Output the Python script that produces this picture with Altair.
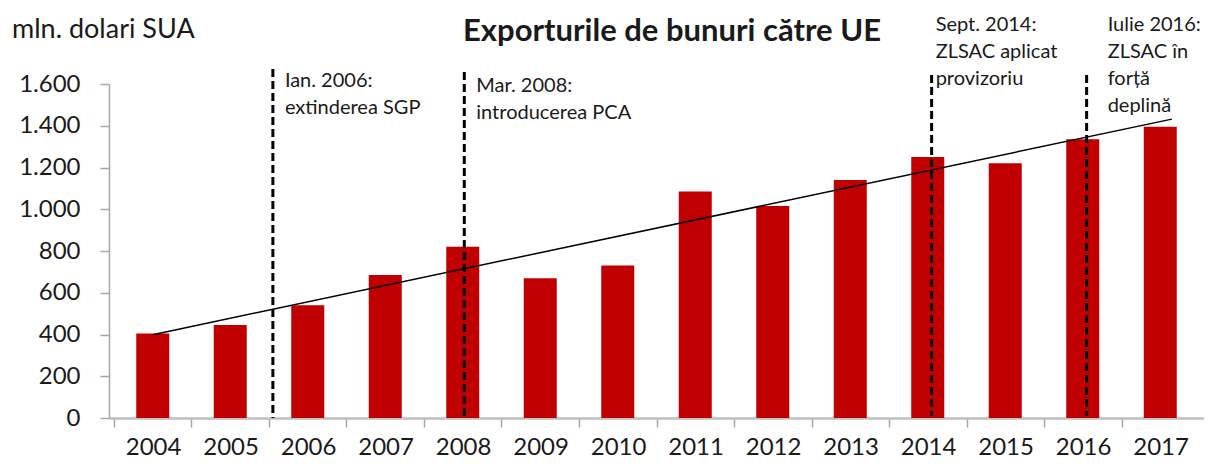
import altair as alt
import pandas as pd

# ---- data ----
years = list(range(2004, 2018))
exports = [405, 445, 540, 685, 820, 670, 730, 1085, 1015, 1140, 1250, 1220, 1335, 1395]

event_years = [2005.55, 2008.02, 2014.05, 2016.05]
event_tops = [1672, 1657, 1643, 1643]
event_bottoms = [0, 0, 12, 12]
event_labels = [
    "Ian. 2006:\nextinderea SGP",
    "Mar. 2008:\nintroducerea PCA",
    "Sept. 2014:\nZLSAC aplicat\nprovizoriu",
    "Iulie 2016:\nZLSAC în\nforță\ndeplină",
]
y_ticks = [0, 200, 400, 600, 800, 1000, 1200, 1400, 1600]
x_boundaries = [y - 0.5 for y in years]

title_text = "Exporturile de bunuri către UE"
unit_text = "mln. dolari SUA"

# ---- layout ----
W, H = 1095, 334
FONT = "Lato"
RED = "#C00000"
TXT = "#1a1a1a"

df = pd.DataFrame({"year": years, "value": exports})
ev = pd.DataFrame({"year": event_years, "top": event_tops, "bottom": event_bottoms,
                   "label": event_labels})

xscale = alt.Scale(domain=[2003.5, 2017.5], nice=False, zero=False)
yscale = alt.Scale(domain=[0, 1600], nice=False)

x_axis = alt.Axis(values=x_boundaries, labelExpr="toString(datum.value + 0.5)",
                  labelOffset=W / 14 / 2, tickSize=9, tickColor="#a6a6a6", tickWidth=1.5,
                  domainColor="#bfbfbf", domainWidth=2.5, labelFont=FONT, labelFontSize=24,
                  labelColor=TXT, labelPadding=8, labelFlush=False, labelOverlap=False,
                  grid=False, title=None)
y_axis = alt.Axis(values=y_ticks, labelExpr="replace(format(datum.value, ','), ',', '.')",
                  tickSize=9, tickColor="#a6a6a6", tickWidth=1.5, domainColor="#a6a6a6",
                  domainWidth=1.5, labelFont=FONT, labelFontSize=24, labelColor=TXT,
                  labelPadding=20, grid=False, title=None)

base = alt.Chart(df)
bars = base.mark_bar(color=RED, size=33).encode(
    x=alt.X("year:Q", scale=xscale, axis=x_axis),
    y=alt.Y("value:Q", scale=yscale, axis=y_axis),
)
trend = base.transform_regression("year", "value", extent=[2004, 2017.15]).mark_line(
    color="black", strokeWidth=1.5
).encode(x=alt.X("year:Q", scale=xscale), y=alt.Y("value:Q", scale=yscale))

rules = alt.Chart(ev).mark_rule(color="black", strokeWidth=3, strokeDash=[8, 4]).encode(
    x=alt.X("year:Q", scale=xscale), y=alt.Y("top:Q", scale=yscale), y2="bottom:Q"
)

text_layers = []
text_settings = [(12, -13), (12, -8), (4, -69), (21, -69)]
for i, (dx, ty) in enumerate(text_settings):
    sub = ev.iloc[[i]]
    text_layers.append(
        alt.Chart(sub).mark_text(align="left", baseline="top", dx=dx, font=FONT, fontSize=20,
                                 lineHeight=27, color=TXT, lineBreak="\n").encode(
            x=alt.X("year:Q", scale=xscale), y=alt.value(ty), text="label:N"
        )
    )

title = alt.Chart(pd.DataFrame({"t": [title_text]})).mark_text(
    align="center", baseline="middle", font=FONT, fontSize=31, fontWeight="bold", color=TXT
).encode(text="t:N", x=alt.value(563), y=alt.value(-52))
unit = alt.Chart(pd.DataFrame({"t": [unit_text]})).mark_text(
    align="left", baseline="middle", font=FONT, fontSize=27, color=TXT
).encode(text="t:N", x=alt.value(-97), y=alt.value(-54))

chart = alt.layer(bars, trend, rules, *text_layers, title, unit).properties(
    width=W, height=H, autosize="none",
    padding={"left": 101, "top": 76, "right": 0, "bottom": 40},
    background="white",
).configure_view(stroke=None)

chart.save("out.html", embed_options={"renderer": "svg", "actions": False})
